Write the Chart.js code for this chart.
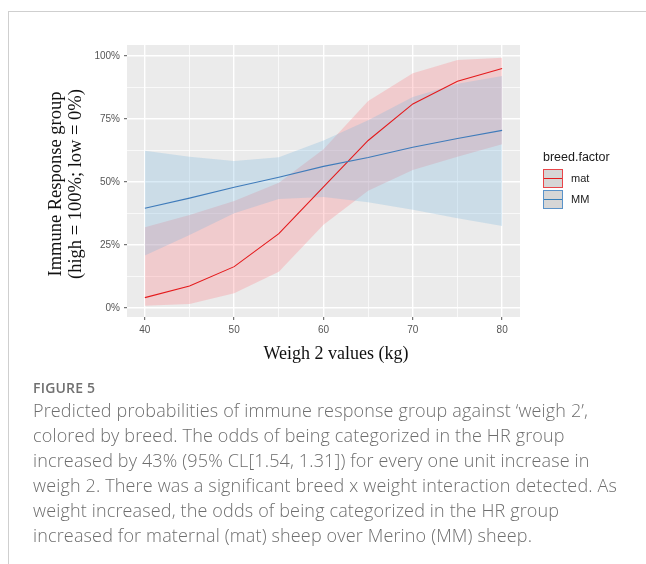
<!DOCTYPE html>
<html><head><meta charset="utf-8">
<script src="https://cdn.jsdelivr.net/npm/chart.js@4"></script>
<style>
html,body{margin:0;padding:0;background:#fff;width:646px;height:564px;overflow:hidden;}
#wrap{position:relative;width:646px;height:564px;}
#c{position:absolute;left:0;top:0;}
.frame{position:absolute;left:8px;top:11px;width:700px;height:600px;border-top:1px solid #cfcfcf;border-left:1px solid #cfcfcf;}
.ytitle{position:absolute;left:-65px;top:164px;width:260px;height:40px;font:18.5px "Liberation Serif","Times New Roman",serif;line-height:20px;text-align:center;color:#111;transform:rotate(-90deg);transform-origin:130px 20px;white-space:nowrap;}
.xtitle{position:absolute;left:186px;top:343px;width:300px;text-align:center;font:18px "Liberation Serif","Times New Roman",serif;color:#111;white-space:nowrap;}
.legend{position:absolute;left:543px;top:150px;font:12px "Liberation Sans",Arial,sans-serif;color:#1a1a1a;}
.legend .t{font-size:12.5px;margin-bottom:5px;}
.key{position:relative;width:18px;height:17px;background:#d6d6d6;border:1px solid;margin-bottom:2px;}
.key i{position:absolute;left:0;right:0;top:8px;height:1px;}
.lab{position:absolute;left:28px;font-size:11px;}
.cap{position:absolute;left:33px;top:378px;font-family:"Open Sans",sans-serif;color:#6b6b6b;}
.cap .fig{font-size:14px;font-weight:600;letter-spacing:0.2px;color:#707070;}
.cap .txt{font-size:18px;font-weight:300;letter-spacing:0.15px;line-height:25px;white-space:pre;margin-top:1px;color:#6e6e6e;}
</style></head>
<body><div id="wrap">
<div class="frame"></div>
<canvas id="c" width="646" height="564"></canvas>
<div class="ytitle">Immune Response group<br>(high = 100%; low = 0%)</div>
<div class="xtitle">Weigh 2 values (kg)</div>
<div class="legend">
  <div class="t">breed.factor</div>
  <div style="position:relative">
    <div class="key" style="border-color:#E8464A"><i style="background:#E41A1C"></i></div>
    <div class="lab" style="top:3px">mat</div>
  </div>
  <div style="position:relative">
    <div class="key" style="border-color:#5B93C9"><i style="background:#377EB8"></i></div>
    <div class="lab" style="top:3px">MM</div>
  </div>
</div>
<div class="cap">
<div class="fig">FIGURE 5</div>
<div class="txt">Predicted probabilities of immune response group against ‘weigh 2’,
colored by breed. The odds of being categorized in the HR group
increased by 43% (95% CL[1.54, 1.31]) for every one unit increase in
weigh 2. There was a significant breed x weight interaction detected. As
weight increased, the odds of being categorized in the HR group
increased for maternal (mat) sheep over Merino (MM) sheep.</div>
</div>
</div>
<script>
// ---- data ----
const weights   = [40, 45, 50, 55, 60, 65, 70, 75, 80];
const matFit    = [0.041, 0.087, 0.164, 0.295, 0.481, 0.665, 0.810, 0.900, 0.951];
const matLower  = [0.009, 0.016, 0.058, 0.144, 0.330, 0.465, 0.548, 0.600, 0.650];
const matUpper  = [0.320, 0.369, 0.425, 0.497, 0.630, 0.822, 0.932, 0.984, 0.993];
const mmFit     = [0.396, 0.436, 0.479, 0.519, 0.562, 0.597, 0.638, 0.673, 0.705];
const mmLower   = [0.208, 0.290, 0.376, 0.433, 0.440, 0.420, 0.390, 0.356, 0.325];
const mmUpper   = [0.624, 0.600, 0.583, 0.598, 0.665, 0.745, 0.838, 0.890, 0.921];
const xTickVals = [40, 45, 50, 55, 60, 65, 70, 75, 80];
const xLabelVals = [40, 50, 60, 70, 80];
const yTickVals = [0, 0.125, 0.25, 0.375, 0.5, 0.625, 0.75, 0.875, 1];
const yLabelVals = [0, 0.25, 0.5, 0.75, 1];
const yLabels = ['0%', '25%', '50%', '75%', '100%'];

const pts = arr => arr.map((v, i) => ({x: weights[i], y: v}));
const isMajor = (v, list) => list.some(m => Math.abs(m - v) < 1e-9);

const panelBg = {
  id: 'panelBg',
  beforeDraw(chart) {
    const {ctx, chartArea: a} = chart;
    ctx.save();
    ctx.fillStyle = '#EBEBEB';
    ctx.fillRect(a.left, a.top, a.right - a.left, a.bottom - a.top);
    ctx.restore();
  }
};

const band = (lbl) => ({label: lbl, borderWidth: 0, borderColor: 'rgba(0,0,0,0)', pointRadius: 0, tension: 0});

new Chart(document.getElementById('c'), {
  type: 'line',
  data: {
    datasets: [
      Object.assign(band('matLow'), {data: pts(matLower), fill: false, order: 5}),
      Object.assign(band('matHigh'), {data: pts(matUpper), fill: 0, backgroundColor: 'rgba(255,120,125,0.27)', order: 4}),
      Object.assign(band('mmLow'), {data: pts(mmLower), fill: false, order: 3}),
      Object.assign(band('mmHigh'), {data: pts(mmUpper), fill: 2, backgroundColor: 'rgba(120,180,220,0.27)', order: 2}),
      {label: 'mat', data: pts(matFit), borderColor: '#E41A1C', borderWidth: 1.1, pointRadius: 0, fill: false, tension: 0, order: 1},
      {label: 'MM', data: pts(mmFit), borderColor: '#3F7BBA', borderWidth: 1.1, pointRadius: 0, fill: false, tension: 0, order: 0}
    ]
  },
  plugins: [panelBg],
  options: {
    responsive: false,
    animation: false,
    events: [],
    layout: {padding: {left: 0, top: 45, right: 126, bottom: 197}},
    plugins: {legend: {display: false}, tooltip: {enabled: false}},
    scales: {
      x: {
        type: 'linear', min: 38, max: 82,
        afterBuildTicks: ax => { ax.ticks = xTickVals.map(v => ({value: v})); },
        afterFit: s => { s.height = 50; },
        border: {display: false},
        grid: {
          color: '#FFFFFF',
          lineWidth: c => isMajor(c.tick.value, xLabelVals) ? 1.4 : 0.7,
          tickColor: c => isMajor(c.tick.value, xLabelVals) ? '#555555' : 'rgba(0,0,0,0)',
          tickLength: 3, tickWidth: 1
        },
        ticks: {
          autoSkip: false, maxRotation: 0, padding: 4,
          color: '#555555', font: {family: 'Liberation Sans, Arial, sans-serif', size: 10},
          callback: v => isMajor(v, xLabelVals) ? String(v) : ''
        }
      },
      y: {
        type: 'linear', min: -0.036, max: 1.044,
        afterBuildTicks: ax => { ax.ticks = yTickVals.map(v => ({value: v})); },
        afterFit: s => { s.width = 127; },
        border: {display: false},
        grid: {
          color: '#FFFFFF',
          lineWidth: c => isMajor(c.tick.value, yLabelVals) ? 1.4 : 0.7,
          tickColor: c => isMajor(c.tick.value, yLabelVals) ? '#555555' : 'rgba(0,0,0,0)',
          tickLength: 3, tickWidth: 1
        },
        ticks: {
          autoSkip: false, padding: 4,
          color: '#555555', font: {family: 'Liberation Sans, Arial, sans-serif', size: 10},
          callback: v => { const i = yLabelVals.findIndex(m => Math.abs(m - v) < 1e-9); return i >= 0 ? yLabels[i] : ''; }
        }
      }
    }
  }
});
</script>
</body></html>
